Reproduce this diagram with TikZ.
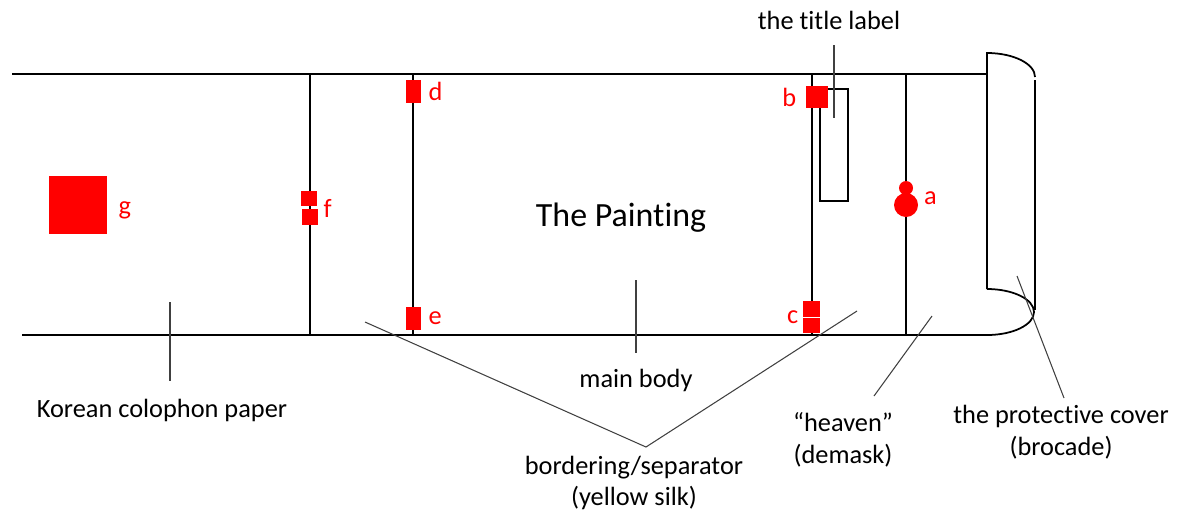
\documentclass[tikz,border=0pt]{standalone}
\usepackage{fontspec}
\setmainfont{Carlito}[RawFeature={-liga;-clig;-dlig;-calt}]
\usetikzlibrary{positioning}

\begin{document}
\begin{tikzpicture}[x=0.02cm,y=-0.02cm]

	\tikzstyle{edge} = [draw=black, line width=1pt]
	\tikzstyle{leader} = [draw=black!75, line width=0.6pt]
	\tikzstyle{seal} = [rectangle, fill=red, inner sep=0pt]
	\tikzstyle{sealdot} = [circle, fill=red, inner sep=0pt]
	\tikzstyle{seallabel} = [text=red, inner sep=0pt, font=\fontsize{15}{17}\selectfont]
	\tikzstyle{caption} = [align=center, inner sep=1pt, font=\fontsize{15}{18}\selectfont]

	\useasboundingbox (0,0) rectangle (1189,515);

	% scroll frame
	\coordinate (topleft) at (12,74);
	\coordinate (topright) at (987,74);
	\coordinate (botleft) at (22,335);
	\coordinate (botright) at (987,335);
	\draw [edge] (topleft) -- (topright);
	\draw [edge] (botleft) -- (botright);

	% separators
	\draw [edge] (310,74) -- (310,335);
	\draw [edge] (413,74) -- (413,335);
	\draw [edge] (812,74) -- (812,335);
	\draw [edge] (906,74) -- (906,335);

	% protective cover
	\draw [edge] (987,289) -- (987,53) arc (-90:0:48 and 24);
	\draw [edge] (1035,80) -- (1035,310);
	\draw [edge] (987,289) arc (-90:90:47 and 23);

	% title label
	\draw [edge] (820,89) rectangle (848,201);

	% seals
	\node (g) [seal, minimum size=1.16cm] at (78,205) {};
	\node (f1) [seal, minimum width=0.32cm, minimum height=0.30cm] at (309,198.5) {};
	\node (f2) [seal, minimum width=0.32cm, minimum height=0.32cm] at (310,217) {};
	\node (d) [seal, minimum width=0.30cm, minimum height=0.46cm] at (413.5,91.5) {};
	\node (e) [seal, minimum width=0.30cm, minimum height=0.46cm] at (413.5,318.5) {};
	\node (b) [seal, minimum size=0.44cm] at (817,97) {};
	\node (c) [seal, minimum width=0.34cm, minimum height=0.64cm] at (811.5,317) {};
	\draw [white, line width=0.5pt] (c.west) -- (c.east);
	\node (a1) [sealdot, minimum size=0.28cm] at (906,188) {};
	\node (a2) [sealdot, minimum size=0.48cm] at (906,205) {};

	\node [seallabel, right=0.22cm of g, yshift=-0.1cm] {g};
	\node [seallabel, right=0.1cm of f2.north east] {f};
	\node [seallabel, right=0.14cm of d] {d};
	\node [seallabel, right=0.14cm of e] {e};
	\node [seallabel, left=0.18cm of b] {b};
	\node [seallabel, left=0.08cm of c] {c};
	\node [seallabel, right=0.18cm of a2.north east, yshift=-0.03cm] {a};

	% texts
	\node (title) [caption] at (829,20) {the title label};
	\node (painting) [caption, font=\fontsize{19.3}{22}\selectfont] at (621,218) {The Painting};
	\node (mainbody) [caption] at (636,380) {main body};
	\node (colophon) [caption] at (162,410) {Korean colophon paper};
	\node (border) [caption] at (634,483) {bordering/separator\\(yellow silk)};
	\node (heaven) [caption] at (843,440) {“heaven”\\(demask)};
	\node (cover) [caption] at (1061,432) {the protective cover\\(brocade)};

	% leaders
	\coordinate (titletop) at (834,45);
	\coordinate (titletip) at (834,118);
	\coordinate (bodytop) at (636,280);
	\coordinate (bodyfoot) at (636,353);
	\coordinate (colotop) at (170,302);
	\coordinate (colofoot) at (170,381);
	\coordinate (borderfoot) at (646,447);
	\coordinate (borderleft) at (365,322);
	\coordinate (borderright) at (857,311);
	\coordinate (heavenfoot) at (874,396);
	\coordinate (heaventip) at (932,316);
	\coordinate (covertip) at (1017,276);
	\coordinate (coverfoot) at (1064,398);

	\draw [leader] (titletop) -- (titletip);
	\draw [leader] (bodytop) -- (bodyfoot);
	\draw [leader] (colotop) -- (colofoot);
	\draw [leader] (borderleft) -- (borderfoot) -- (borderright);
	\draw [leader] (heavenfoot) -- (heaventip);
	\draw [leader] (covertip) -- (coverfoot);

\end{tikzpicture}
\end{document}
